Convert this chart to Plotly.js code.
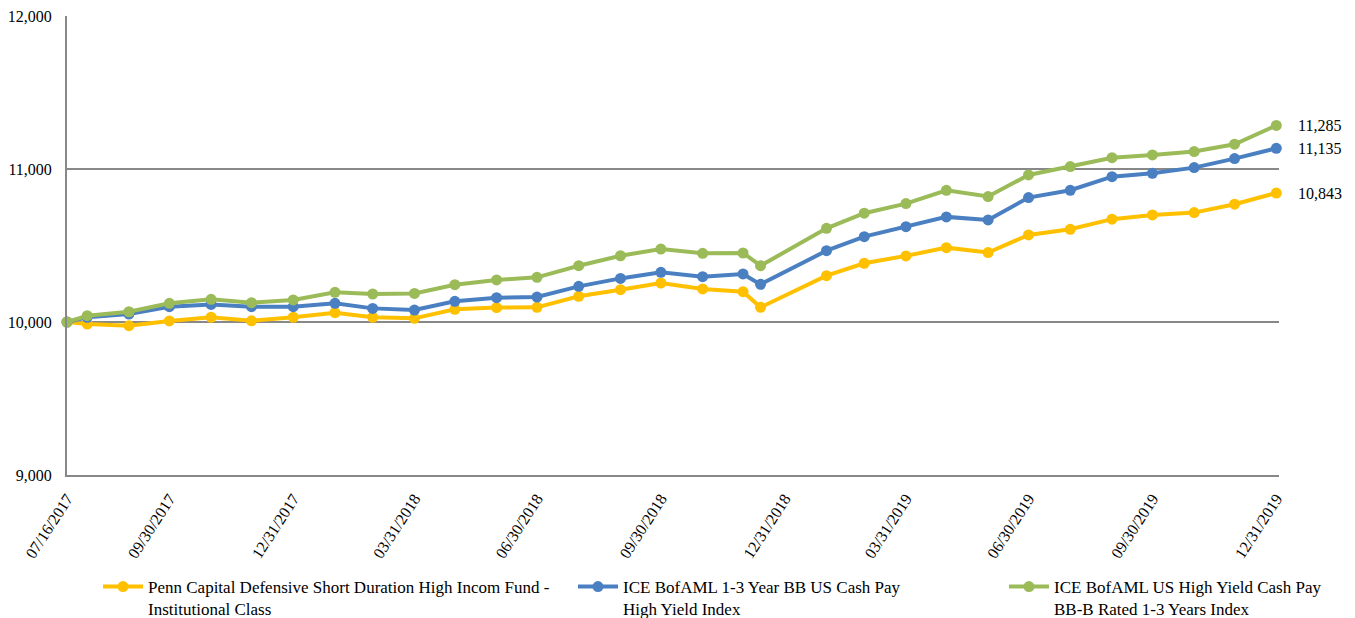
<!DOCTYPE html>
<html>
<head>
<meta charset="utf-8">
<script src="https://cdn.plot.ly/plotly-3.0.1.min.js"></script>
<style>html,body{margin:0;padding:0;background:#fff;}#chart{width:1355px;height:618px;}</style>
</head>
<body>
<div id="chart"></div>
<script>
const dates = ['2017-07-16','2017-07-31','2017-08-31','2017-09-30','2017-10-31','2017-11-30','2017-12-31',
  '2018-01-31','2018-02-28','2018-03-31','2018-04-30','2018-05-31','2018-06-30','2018-07-31','2018-08-31',
  '2018-09-30','2018-10-31','2018-11-30','2018-12-13','2019-01-31','2019-02-28','2019-03-31','2019-04-30',
  '2019-05-31','2019-06-30','2019-07-31','2019-08-31','2019-09-30','2019-10-31','2019-11-30','2019-12-31'];

const fundValues = [10000, 9987, 9976, 10007, 10031, 10008, 10031, 10061, 10031, 10024, 10083,
  10094, 10096, 10168, 10211, 10255, 10216, 10198, 10096, 10303,
  10384, 10432, 10486, 10454, 10569, 10606, 10672, 10700, 10715, 10770, 10843];

const bbIndexValues = [10000, 10031, 10052, 10100, 10115, 10100, 10100, 10122, 10089, 10078, 10135,
  10159, 10163, 10233, 10285, 10325, 10296, 10314, 10246, 10466,
  10558, 10623, 10687, 10667, 10813, 10861, 10950, 10972, 11009, 11068, 11135];

const bbbIndexValues = [10000, 10041, 10067, 10122, 10148, 10126, 10144, 10194, 10183, 10187, 10244,
  10275, 10292, 10368, 10433, 10477, 10449, 10451, 10368, 10612,
  10711, 10774, 10861, 10820, 10961, 11016, 11074, 11092, 11114, 11162, 11285];

const seriesNames = [
  'Penn Capital Defensive Short Duration High Incom Fund -<br>Institutional Class',
  'ICE BofAML 1-3 Year BB US Cash Pay<br>High Yield Index',
  'ICE BofAML US High Yield Cash Pay<br>BB-B Rated 1-3 Years Index'
];

const tickDates = ['2017-07-16','2017-09-30','2017-12-31','2018-03-31','2018-06-30','2018-09-30',
  '2018-12-31','2019-03-31','2019-06-30','2019-09-30','2019-12-31'];
const tickLabels = ['07/16/2017','09/30/2017','12/31/2017','03/31/2018','06/30/2018','09/30/2018',
  '12/31/2018','03/31/2019','06/30/2019','09/30/2019','12/31/2019'];

const yTicks = [9000, 10000, 11000, 12000];

const colors = ['#FFC000', '#4A80C2', '#9BBB59'];
const allSeries = [fundValues, bbIndexValues, bbbIndexValues];
const legendIds = ['legend', 'legend2', 'legend3'];

const FONT = '"Liberation Serif", "Times New Roman", serif';

const traces = allSeries.map((vals, i) => ({
  type: 'scatter',
  mode: 'lines+markers',
  x: dates,
  y: vals,
  name: seriesNames[i],
  legend: legendIds[i],
  line: {color: colors[i], width: 4},
  marker: {color: colors[i], size: 11},
  cliponaxis: false,
  hoverinfo: 'x+y'
}));

const last = dates.length - 1;
const annotations = allSeries.map((vals, i) => ({
  x: dates[last],
  y: vals[last],
  xref: 'x', yref: 'y',
  text: vals[last].toLocaleString('en-US'),
  showarrow: false,
  xanchor: 'left',
  xshift: 20,
  font: {family: FONT, size: 16, color: '#000'}
}));

// plot area in pixels
const L = 67, R = 1279, T = 16, B = 475;
const px2x = p => (p - L) / (R - L);
const py2y = p => (B - p) / (B - T);

const legendBase = {
  orientation: 'h',
  yanchor: 'top',
  xanchor: 'left',
  valign: 'top',
  bgcolor: 'rgba(0,0,0,0)',
  itemwidth: 40,
  font: {family: FONT, size: 17, color: '#000'},
  tracegroupgap: 0
};

const layout = {
  width: 1355,
  height: 618,
  margin: {l: L, r: 1355 - R, t: T, b: 618 - B, autoexpand: false},
  paper_bgcolor: '#fff',
  plot_bgcolor: '#fff',
  showlegend: true,
  font: {family: FONT, size: 16, color: '#000'},
  xaxis: {
    type: 'date',
    range: ['2017-07-16', '2020-01-02'],
    tickmode: 'array',
    tickvals: tickDates,
    ticktext: tickLabels,
    tickangle: -57,
    showgrid: false,
    zeroline: false,
    showline: true,
    linecolor: '#888',
    linewidth: 2,
    ticks: '',
    automargin: false,
    ticklabelstandoff: 6,
    tickfont: {family: FONT, size: 16, color: '#000'}
  },
  yaxis: {
    range: [9000, 12000],
    tickmode: 'array',
    tickvals: yTicks,
    ticktext: yTicks.map(v => v.toLocaleString('en-US')),
    showgrid: true,
    gridcolor: '#888',
    gridwidth: 1.5,
    zeroline: false,
    showline: true,
    linecolor: '#888',
    linewidth: 2,
    ticks: '',
    automargin: false,
    ticklabelstandoff: 10,
    tickfont: {family: FONT, size: 16, color: '#000'}
  },
  legend: Object.assign({}, legendBase, {x: px2x(98), y: py2y(569)}),
  legend2: Object.assign({}, legendBase, {x: px2x(573), y: py2y(569)}),
  legend3: Object.assign({}, legendBase, {x: px2x(1004), y: py2y(569)}),
  annotations: annotations
};

Plotly.newPlot('chart', traces, layout, {displayModeBar: false, responsive: false});
</script>
</body>
</html>
